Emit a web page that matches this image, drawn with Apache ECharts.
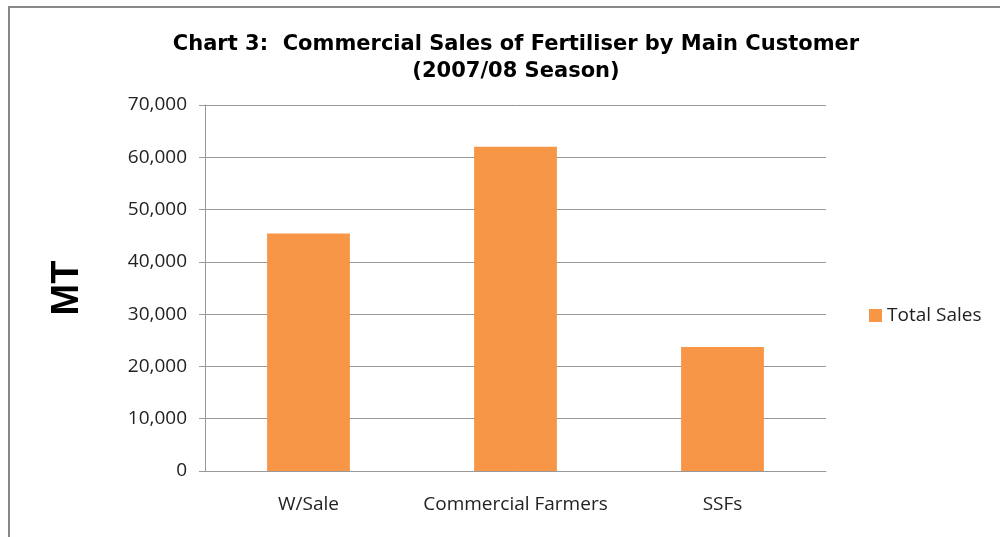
<!DOCTYPE html>
<html>
<head>
<meta charset="utf-8">
<script src="https://cdn.jsdelivr.net/npm/echarts@6/dist/echarts.min.js"></script>
<style>
  html, body { margin: 0; padding: 0; background: #fff; }
  #chart { width: 1000px; height: 537px; }
</style>
</head>
<body>
<div id="chart"></div>
<script>
// 数据
const categories = ['W/Sale', 'Commercial Farmers', 'SSFs'];
const totalSales = [45400, 62000, 23700];
const seriesName = 'Total Sales';

const chart = echarts.init(document.getElementById('chart'));

const labelFont = '"Open Sans", sans-serif';

const option = {
  animation: false,
  backgroundColor: '#fff',
  title: {
    text: 'Chart 3:  Commercial Sales of Fertiliser by Main Customer\n(2007/08 Season)',
    left: 511,
    top: 26,
    textAlign: 'center',
    textStyle: {
      fontFamily: '"DejaVu Sans", sans-serif',
      fontWeight: 'bold',
      fontSize: 21,
      lineHeight: 27,
      color: '#000'
    }
  },
  legend: {
    data: [seriesName],
    orient: 'vertical',
    left: 864,
    top: 301,
    itemWidth: 13,
    itemHeight: 13,
    itemGap: 6,
    icon: 'rect',
    textStyle: { fontFamily: labelFont, fontSize: 19, color: '#222' }
  },
  grid: { left: 205, right: 174, top: 105, bottom: 66 },
  xAxis: {
    type: 'category',
    data: categories,
    axisLine: { lineStyle: { color: '#999' } },
    axisTick: { show: false },
    axisLabel: { interval: 0, fontFamily: labelFont, fontSize: 19, color: '#222', margin: 24 }
  },
  yAxis: {
    type: 'value',
    min: 0,
    max: 70000,
    interval: 10000,
    name: 'MT',
    nameLocation: 'middle',
    nameGap: 118,
    nameTextStyle: {
      fontFamily: '"Liberation Sans", Arial, sans-serif',
      fontWeight: 'bold',
      fontSize: 38,
      color: '#000'
    },
    axisLine: { show: true, lineStyle: { color: '#999' } },
    axisTick: { show: true, length: 6, lineStyle: { color: '#999' } },
    splitLine: { lineStyle: { color: '#999' } },
    axisLabel: {
      fontFamily: labelFont,
      fontSize: 19,
      color: '#222',
      margin: 18,
      formatter: v => v.toLocaleString('en-US')
    }
  },
  series: [{
    name: seriesName,
    type: 'bar',
    data: totalSales,
    barWidth: '40%',
    itemStyle: { color: '#f79646' }
  }],
  graphic: [{
    type: 'rect',
    shape: { x: 9, y: 7, width: 1100, height: 700 },
    style: { fill: null, stroke: '#888', lineWidth: 2 },
    silent: true
  }]
};

chart.setOption(option);
window.addEventListener('resize', chart.resize);
</script>
</body>
</html>
